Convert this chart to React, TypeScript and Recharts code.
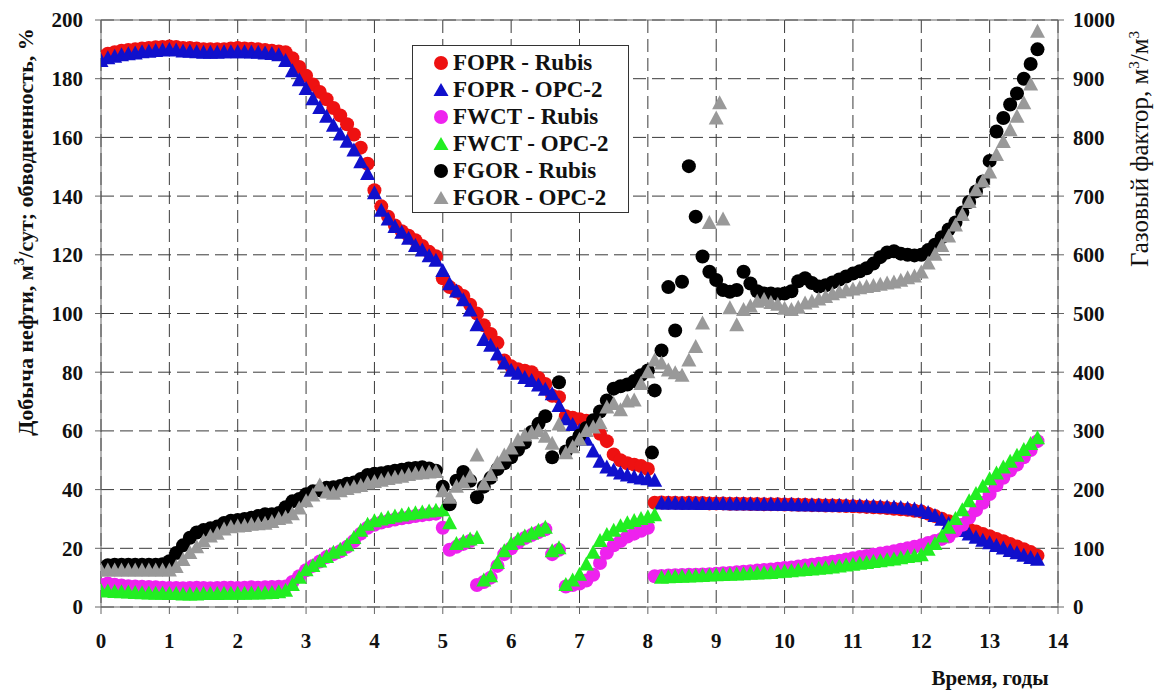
import { ScatterChart, Scatter, XAxis, YAxis, CartesianGrid, ReferenceLine } from "recharts";

// time grid, years (step 0.1)
const TIME = [
  0, 0.1, 0.2, 0.3, 0.4, 0.5, 0.6, 0.7, 0.8, 0.9,
  1, 1.1, 1.2, 1.3, 1.4, 1.5, 1.6, 1.7, 1.8, 1.9,
  2, 2.1, 2.2, 2.3, 2.4, 2.5, 2.6, 2.7, 2.8, 2.9,
  3, 3.1, 3.2, 3.3, 3.4, 3.5, 3.6, 3.7, 3.8, 3.9,
  4, 4.1, 4.2, 4.3, 4.4, 4.5, 4.6, 4.7, 4.8, 4.9,
  5, 5.1, 5.2, 5.3, 5.4, 5.5, 5.6, 5.7, 5.8, 5.9,
  6, 6.1, 6.2, 6.3, 6.4, 6.5, 6.6, 6.7, 6.8, 6.9,
  7, 7.1, 7.2, 7.3, 7.4, 7.5, 7.6, 7.7, 7.8, 7.9,
  8, 8.1, 8.2, 8.3, 8.4, 8.5, 8.6, 8.7, 8.8, 8.9,
  9, 9.1, 9.2, 9.3, 9.4, 9.5, 9.6, 9.7, 9.8, 9.9,
  10, 10.1, 10.2, 10.3, 10.4, 10.5, 10.6, 10.7, 10.8, 10.9,
  11, 11.1, 11.2, 11.3, 11.4, 11.5, 11.6, 11.7, 11.8, 11.9,
  12, 12.1, 12.2, 12.3, 12.4, 12.5, 12.6, 12.7, 12.8, 12.9,
  13, 13.1, 13.2, 13.3, 13.4, 13.5, 13.6, 13.7,
];

// oil rate, m3/day
const FOPR_RUBIS = [
  187.5, 188.5, 189, 189.5, 189.8, 190, 190.3, 190.5, 190.7, 190.8,
  191, 190.8, 190.5, 190.5, 190.3, 190, 190, 190, 190, 190.3,
  190.5, 190.3, 190.2, 190, 189.8, 189.5, 189.3, 189, 187, 184,
  181, 178, 175.5, 173, 170, 167.5, 164.5, 161, 156.5, 151,
  142, 136.5, 133, 130, 128, 126.5, 125, 123, 121, 119.5,
  112, 109, 107.5, 106, 103, 100, 96, 93, 90, 84,
  82, 81, 80.5, 80, 78, 76, 72, 71.5, 65, 64.5,
  64, 63.5, 62, 59, 56.5, 52, 50, 49, 48.5, 48,
  47, 35.5, 35.6, 35.5, 35.5, 35.4, 35.5, 35.4, 35.4, 35.3,
  35.3, 35.3, 35.2, 35.2, 35.2, 35.1, 35.1, 35, 35, 35,
  34.9, 34.9, 34.8, 34.8, 34.7, 34.7, 34.6, 34.6, 34.5, 34.4,
  34.3, 34.2, 34.1, 34, 33.9, 33.7, 33.5, 33.3, 33.1, 32.8,
  32.5, 31.8, 31, 30.1, 29.2, 28.3, 27.4, 26.5, 25.7, 24.9,
  24.1, 23.2, 22.4, 21.5, 20.6, 19.7, 18.7, 17.5,
];
const FOPR_OPC = [
  186, 187, 187.5, 188, 188.3, 188.6, 189, 189.2, 189.4, 189.6,
  189.8, 189.6, 189.3, 189.2, 189, 188.8, 188.8, 188.8, 189, 189,
  189, 189, 188.9, 188.8, 188.6, 188.4, 188, 186, 182.5, 179.5,
  176.5, 173, 170, 167, 164, 161, 158.5, 155.5, 151.5, 147.5,
  141, 135, 132, 129.5, 127.5, 125.5, 123, 121.5, 119.5, 118,
  114.5, 110, 107.5, 104.5, 101, 96, 91, 89, 86, 83,
  80.5, 79.5, 78, 77, 75.5, 74, 72.5, 68.5, 64, 62,
  60, 57, 53, 49.5, 47.5, 46.5, 45.5, 44.8, 44.2, 43.8,
  43.5, 43, 35.3, 35.3, 35.3, 35.2, 35.2, 35.2, 35.1, 35.1,
  35.1, 35.1, 35, 35, 35, 35, 34.9, 34.9, 34.9, 34.8,
  34.8, 34.8, 34.7, 34.7, 34.7, 34.6, 34.6, 34.5, 34.5, 34.5,
  34.4, 34.4, 34.3, 34.2, 34.1, 34, 33.9, 33.7, 33.5, 33.2,
  32.8, 32, 31, 29.7, 28.4, 27.1, 25.9, 24.7, 23.6, 22.6,
  21.7, 20.8, 19.9, 19.1, 18.3, 17.5, 16.7, 16.1,
];

// water cut, %
const FWCT_RUBIS = [
  7.5, 8, 7.6, 7.3, 7.1, 7, 6.9, 6.8, 6.7, 6.6,
  6.5, 6.5, 6.4, 6.5, 6.6, 6.5, 6.4, 6.5, 6.6, 6.6,
  6.5, 6.6, 6.7, 6.6, 6.7, 6.8, 6.9, 7, 8.5, 10.5,
  12.5, 14, 15.5, 17, 18, 19, 20.5, 22.5, 25, 27,
  28, 28.8, 29.3, 29.8, 30.2, 30.6, 31, 31.3, 31.6, 31.8,
  27, 19.5, 20.5, 21.5, 22.5, 7.5, 8.5, 10, 14, 18,
  20, 22, 23.5, 24.5, 25.5, 26.5, 18, 19.5, 7, 7.5,
  8, 9, 11, 15, 18.5, 21, 22.5, 24, 25, 26,
  27, 10.5, 10.6, 10.7, 10.8, 10.9, 11, 11, 11.1, 11.2,
  11.3, 11.5, 11.6, 11.8, 12, 12.2, 12.4, 12.6, 12.8, 13,
  13.3, 13.5, 13.8, 14.1, 14.4, 14.7, 15, 15.4, 15.8, 16.2,
  16.6, 17, 17.4, 17.8, 18.2, 18.6, 19, 19.5, 20, 20.5,
  21, 21.8, 22.5, 23.2, 24, 26, 28, 30.5, 33, 35.5,
  38.5, 41.5, 44, 46.5, 48.5, 51, 53.5, 56.5,
];
const FWCT_OPC = [
  5.5, 5.3, 5.1, 5, 4.9, 4.8, 4.7, 4.6, 4.5, 4.5,
  4.4, 4.4, 4.3, 4.3, 4.3, 4.4, 4.4, 4.4, 4.5, 4.5,
  4.5, 4.5, 4.6, 4.6, 4.7, 4.8, 5, 5.5, 7.5, 10,
  12.5, 14, 15.5, 17, 18.5, 19.5, 21, 23.5, 26, 28,
  29.2, 29.8, 30.3, 30.8, 31.2, 31.6, 31.9, 32.2, 32.5, 32.8,
  33, 28.5, 21.5, 22.2, 23, 23.5, 9, 10.5, 15, 19,
  21.5, 23, 24, 25, 26, 27, 19, 20, 7.5, 9,
  11, 14.5, 18.5, 22.5, 24.5, 26, 27.5, 28.5, 29.3, 30,
  30.6, 31.3, 10, 10.1, 10.2, 10.3, 10.4, 10.5, 10.6, 10.7,
  10.8, 10.9, 11, 11.1, 11.2, 11.3, 11.4, 11.5, 11.6, 11.8,
  12, 12.2, 12.4, 12.6, 12.8, 13, 13.2, 13.5, 13.8, 14.1,
  14.4, 14.7, 15, 15.3, 15.6, 15.9, 16.2, 16.6, 17, 17.3,
  17.6, 19.5, 21.5, 24, 27, 30, 33, 36, 38.5, 41,
  43.5, 45.5, 47.5, 49.5, 51.5, 53.5, 55.5, 57.5,
];

// gas-oil ratio, m3/m3 (right axis)
const FGOR_RUBIS = [
  65, 71, 72, 72, 72, 72, 72, 72, 72, 73,
  78, 92, 105, 118, 127, 131, 134, 137, 143, 147,
  148, 150, 152, 155, 158, 158, 160, 170, 180, 184,
  192, 197, 199, 203, 204, 206, 210, 212, 218, 225,
  227, 228, 230, 232, 234, 236, 237, 238, 236, 232,
  205, 175, 215, 230, 215, 187, 205, 220, 235, 245,
  255, 268, 280, 298, 312, 325, 255, 383, 265, 280,
  292, 305, 318, 333, 352, 372, 376, 379, 385, 395,
  403, 369, 437, 545, 471, 554, 751, 665, 597, 571,
  557, 540, 537, 540, 571, 551, 538, 534, 534, 533,
  534, 538, 555, 560, 552, 546, 548, 553, 558, 563,
  568, 572, 577, 585, 596, 604, 606, 602, 600, 599,
  600, 608, 617, 630, 643, 655, 672, 690, 708, 725,
  760, 810, 833, 856, 875, 900, 925, 950,
];
const FGOR_OPC = [
  62, 62, 62, 62, 62, 62, 62, 62, 62, 62,
  62, 68, 80, 92, 102, 112, 120, 125, 132, 136,
  137, 138, 140, 141, 142, 145, 150, 152, 158, 168,
  180, 190, 207, 195, 193, 197, 201, 204, 206, 211,
  213, 215, 218, 220, 222, 225, 227, 228, 229, 230,
  197, 186, 205, 212, 222, 258, 209, 225, 245, 258,
  270, 284, 292, 296, 300, 290, 278, 311, 262, 272,
  285, 300, 306, 313, 340, 346, 335, 350, 352, 380,
  400, 420, 415, 403, 398, 394, 420, 443, 483, 654,
  832, 660, 509, 480, 506, 512, 520, 523, 518, 515,
  508, 506, 510, 517, 520, 524, 528, 533, 536, 539,
  541, 543, 545, 547, 549, 551, 553, 556, 560, 563,
  570, 585, 600, 615, 631, 650, 668, 690, 710, 725,
  740, 770, 792, 812, 835, 858, 890, 980,
];
// off-grid outliers
const FGOR_RUBIS_EXTRA_T = [8.06];
const FGOR_RUBIS_EXTRA_V = [263];
const FGOR_OPC_EXTRA_T = [9.05];
const FGOR_OPC_EXTRA_V = [858];

const X_TICKS = [0, 1, 2, 3, 4, 5, 6, 7, 8, 9, 10, 11, 12, 13, 14];
const LEFT_TICKS = [0, 20, 40, 60, 80, 100, 120, 140, 160, 180, 200];
const RIGHT_TICKS = [0, 100, 200, 300, 400, 500, 600, 700, 800, 900, 1000];

const FONT = '"Liberation Serif", "Times New Roman", serif';

const toPoints = (vals: (number | null)[], extraT: number[] = [], extraV: number[] = []) => {
  const pts = TIME.map((t, i) => ({ x: t, y: vals[i] })).filter((p) => p.y != null);
  extraT.forEach((t, i) => pts.push({ x: t, y: extraV[i] }));
  return pts;
};

const circleShape = (color: string) => (p: any) =>
  <circle cx={p.cx} cy={p.cy} r={7} fill={color} />;

const triangleShape = (color: string) => (p: any) =>
  <polygon
    points={`${p.cx},${p.cy - 8} ${p.cx - 7.5},${p.cy + 6} ${p.cx + 7.5},${p.cy + 6}`}
    fill={color}
  />;

const SERIES = [
  { name: "FOPR - Rubis", color: "#ee1111", kind: "circle" },
  { name: "FOPR - OPC-2", color: "#1010cc", kind: "triangle" },
  { name: "FWCT - Rubis", color: "#ee22ee", kind: "circle" },
  { name: "FWCT - OPC-2", color: "#22ee22", kind: "triangle" },
  { name: "FGOR - Rubis", color: "#000000", kind: "circle" },
  { name: "FGOR - OPC-2", color: "#999999", kind: "triangle" },
];

const tickStyle = { fontFamily: FONT, fontWeight: 700, fontSize: 21, fill: "#111" };
const sup = { fontSize: 15, position: "relative" as const, top: -9 };

export default function App() {
  const data = [
    toPoints(FOPR_RUBIS),
    toPoints(FOPR_OPC),
    toPoints(FWCT_RUBIS),
    toPoints(FWCT_OPC),
    toPoints(FGOR_RUBIS, FGOR_RUBIS_EXTRA_T, FGOR_RUBIS_EXTRA_V),
    toPoints(FGOR_OPC, FGOR_OPC_EXTRA_T, FGOR_OPC_EXTRA_V),
  ];

  return (
    <div style={{ position: "absolute", left: 0, top: 0, width: 1157, height: 690, background: "#fff", fontFamily: FONT }}>
      <ScatterChart width={1157} height={690} margin={{ top: 20, right: 39, bottom: 53, left: 41 }}>
        <CartesianGrid yAxisId="left" stroke="#3a3a3a" strokeDasharray="13 6" />
        <XAxis
          type="number"
          dataKey="x"
          domain={[0, 14]}
          ticks={X_TICKS}
          height={30}
          axisLine={{ stroke: "#666" }}
          tickLine={{ stroke: "#666" }}
          tickSize={7}
          tickMargin={19}
          tick={tickStyle}
          allowDataOverflow
        />
        <YAxis
          yAxisId="left"
          type="number"
          dataKey="y"
          domain={[0, 200]}
          ticks={LEFT_TICKS}
          width={60}
          axisLine={{ stroke: "#666" }}
          tickLine={{ stroke: "#666" }}
          tickSize={6}
          tickMargin={12}
          tick={tickStyle}
        />
        <YAxis
          yAxisId="right"
          orientation="right"
          type="number"
          dataKey="y"
          domain={[0, 1000]}
          ticks={RIGHT_TICKS}
          width={60}
          axisLine={{ stroke: "#666" }}
          tickLine={{ stroke: "#666" }}
          tickSize={6}
          tickMargin={9}
          tick={{ ...tickStyle, textAnchor: "start" }}
        />
        <ReferenceLine yAxisId="left" y={200} stroke="#666" />
        {SERIES.map((s, i) => (
          <Scatter
            key={s.name}
            name={s.name}
            data={data[i]}
            yAxisId={i < 4 ? "left" : "right"}
            shape={s.kind === "circle" ? circleShape(s.color) : triangleShape(s.color)}
            isAnimationActive={false}
          />
        ))}
      </ScatterChart>

      {/* left axis title */}
      <div style={{
        position: "absolute", left: 26 - 300, top: 232 - 15, width: 600, height: 30, lineHeight: "30px",
        textAlign: "center", transform: "rotate(-90deg)", fontSize: 22, fontWeight: 700, color: "#111", whiteSpace: "nowrap",
      }}>
        Добыча нефти, м<span style={sup}>3</span>/сут; обводненность, %
      </div>

      {/* right axis title */}
      <div style={{
        position: "absolute", left: 1140 - 200, top: 149 - 15, width: 400, height: 30, lineHeight: "30px",
        textAlign: "center", transform: "rotate(-90deg)", fontSize: 25, color: "#111", whiteSpace: "nowrap",
      }}>
        Газовый фактор, м<span style={sup}>3</span>/м<span style={sup}>3</span>
      </div>

      {/* x axis title */}
      <div style={{
        position: "absolute", left: 990 - 100, top: 678 - 13, width: 200, height: 26, lineHeight: "26px",
        textAlign: "center", fontSize: 21, fontWeight: 700, color: "#111",
      }}>
        Время, годы
      </div>

      {/* legend */}
      <div style={{
        position: "absolute", left: 412, top: 45, width: 217, height: 168, boxSizing: "border-box",
        border: "1px solid #333", background: "#fff",
      }}>
        {SERIES.map((s, i) => (
          <div key={s.name} style={{ position: "absolute", left: 0, top: 17 + i * 27 - 14, height: 28, display: "flex", alignItems: "center" }}>
            <svg width={18} height={18} style={{ marginLeft: 19, marginRight: 3 }}>
              {s.kind === "circle"
                ? <circle cx={9} cy={9} r={7} fill={s.color} />
                : <polygon points="9,2 1.5,15 16.5,15" fill={s.color} />}
            </svg>
            <span style={{ fontSize: 23, fontWeight: 700, color: "#111", whiteSpace: "nowrap" }}>{s.name}</span>
          </div>
        ))}
      </div>
    </div>
  );
}
